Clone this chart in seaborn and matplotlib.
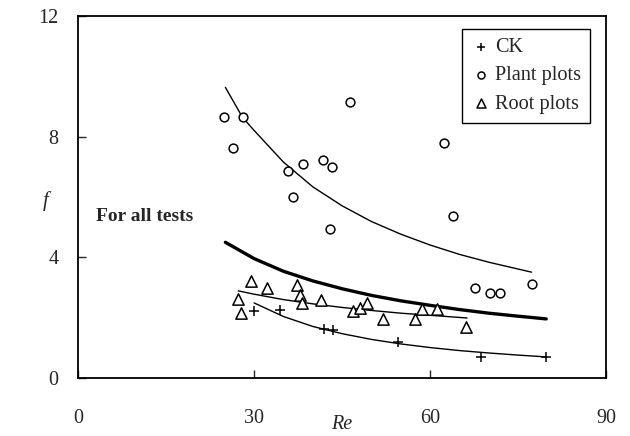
import matplotlib
matplotlib.use("Agg")
import matplotlib.pyplot as plt
import seaborn as sns
import pandas as pd

# ---- data ----
ck_re = [30.0, 34.4, 42.0, 43.5, 54.6, 68.6, 79.7]
ck_f = [2.22, 2.25, 1.62, 1.59, 1.19, 0.70, 0.70]

plant_re = [24.9, 28.1, 26.4, 46.3, 35.8, 38.3, 41.7, 43.2, 36.6, 42.9, 62.4, 63.9, 67.6, 70.3, 71.9, 77.3]
plant_f = [8.65, 8.65, 7.62, 9.15, 6.86, 7.09, 7.22, 6.99, 6.00, 4.94, 7.79, 5.37, 2.98, 2.82, 2.82, 3.12]

root_re = [29.5, 32.2, 27.3, 27.8, 37.3, 37.8, 38.1, 41.4, 46.8, 48.1, 49.3, 52.0, 57.5, 58.6, 61.2, 66.1]
root_f = [3.22, 2.98, 2.62, 2.15, 3.08, 2.75, 2.48, 2.58, 2.22, 2.32, 2.48, 1.96, 1.96, 2.29, 2.29, 1.69]

# trend curves
plant_curve_re = [25.1, 28, 30, 35, 40, 45, 50, 55, 60, 65, 70, 77.3]
plant_curve_f = [9.64, 8.65, 8.21, 7.16, 6.34, 5.71, 5.19, 4.77, 4.41, 4.10, 3.84, 3.51]

all_curve_re = [25.1, 30, 35, 40, 45, 50, 55, 60, 65, 70, 75, 79.8]
all_curve_f = [4.50, 3.96, 3.54, 3.22, 2.96, 2.74, 2.56, 2.41, 2.27, 2.15, 2.05, 1.96]

root_curve_re = [27.3, 30, 35, 40, 45, 50, 55, 60, 66.3]
root_curve_f = [2.89, 2.78, 2.60, 2.46, 2.34, 2.24, 2.15, 2.08, 1.99]

ck_curve_re = [30, 35, 40, 45, 50, 55, 60, 65, 70, 75, 79.8]
ck_curve_f = [2.49, 2.04, 1.71, 1.47, 1.28, 1.13, 1.01, 0.91, 0.83, 0.76, 0.70]

x_ticks = [0, 30, 60, 90]
y_ticks = [0, 4, 8, 12]

# ---- style ----
sns.set_style("ticks")
plt.rcParams["font.family"] = ["Liberation Serif", "DejaVu Serif"]

fig = plt.figure(figsize=(6.3, 4.36), dpi=100)
ax = fig.add_axes([0.124, 0.133, 0.838, 0.830])

# curves
for cx, cy, lw in [(plant_curve_re, plant_curve_f, 1.0),
                   (root_curve_re, root_curve_f, 1.0),
                   (ck_curve_re, ck_curve_f, 1.0),
                   (all_curve_re, all_curve_f, 2.4)]:
    sns.lineplot(x=cx, y=cy, ax=ax, color="black", linewidth=lw, sort=False,
                 legend=False, estimator=None)

# points
sns.scatterplot(x=ck_re, y=ck_f, ax=ax, marker="+", s=60, color="black",
                linewidth=1.1, label="CK", zorder=3)
sns.scatterplot(x=plant_re, y=plant_f, ax=ax, marker="o", s=40, facecolor="white",
                edgecolor="black", linewidth=1.1, label="Plant plots", zorder=3)
sns.scatterplot(x=root_re, y=root_f, ax=ax, marker="^", s=66, facecolor="white",
                edgecolor="black", linewidth=1.1, label="Root plots", zorder=3)

ax.set_xlim(0, 90)
ax.set_ylim(0, 12)
ax.set_xticks(x_ticks)
ax.set_yticks(y_ticks)
ax.tick_params(axis="x", direction="in", length=6, width=1, pad=22, labelsize=14.5)
ax.tick_params(axis="y", direction="in", length=6, width=1, pad=14, labelsize=14.5)
for s in ax.spines.values():
    s.set_visible(True)
    s.set_linewidth(1.3)
    s.set_color("black")

ax.set_xlabel("Re", fontstyle="italic", fontsize=14.5, labelpad=0)
ax.set_ylabel("f", fontstyle="italic", fontsize=15, rotation=0, va="center", ha="center")
ax.yaxis.set_label_coords(-0.062, 0.49)
ax.xaxis.set_label_coords(0.5, -0.103)

ax.text(3.0, 5.35, "For all tests", fontsize=14, fontweight="bold", va="center", ha="left")

leg = ax.legend(loc="upper right", bbox_to_anchor=(0.97, 0.965), fontsize=14.6,
                frameon=True, fancybox=False, edgecolor="black", framealpha=1,
                handletextpad=0.2, handlelength=1.0, borderpad=0.45, labelspacing=0.45,
                markerscale=0.8, borderaxespad=0)
leg.get_frame().set_linewidth(1.0)

fig.savefig("out.png", dpi=100)
